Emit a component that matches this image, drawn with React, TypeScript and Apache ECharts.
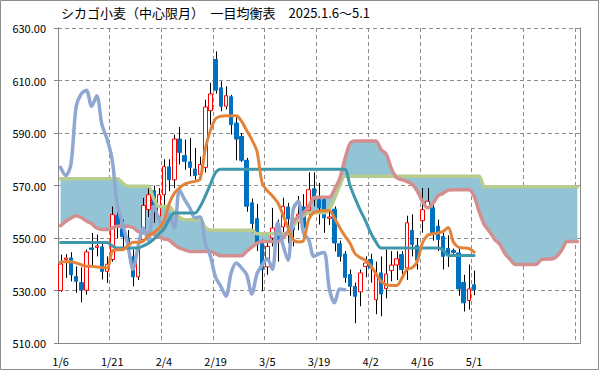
import React, { useEffect, useRef } from 'react';
import * as echarts from 'echarts';

const TITLE = 'シカゴ小麦（中心限月）　一目均衡表　2025.1.6～5.1';
const FONT = '"Noto Sans CJK JP", "Noto Sans", sans-serif';

// trading days (category labels)
const dates = [
  '1/6', '1/7', '1/8', '1/9', '1/10', '1/13', '1/14', '1/15', '1/16', '1/17',
  '1/21', '1/22', '1/23', '1/24', '1/27', '1/28', '1/29', '1/30', '1/31', '2/3',
  '2/4', '2/5', '2/6', '2/7', '2/10', '2/11', '2/12', '2/13', '2/14', '2/18',
  '2/19', '2/20', '2/21', '2/24', '2/25', '2/26', '2/27', '2/28', '3/3', '3/4',
  '3/5', '3/6', '3/7', '3/10', '3/11', '3/12', '3/13', '3/14', '3/17', '3/18',
  '3/19', '3/20', '3/21', '3/24', '3/25', '3/26', '3/27', '3/28', '3/31', '4/1',
  '4/2', '4/3', '4/4', '4/7', '4/8', '4/9', '4/10', '4/11', '4/14', '4/15',
  '4/16', '4/17', '4/21', '4/22', '4/23', '4/24', '4/25', '4/28', '4/29', '4/30',
  '5/1',
];
const futureSlots = 20;

const opens = [
  530.0, 541.8, 542.4, 535.3, 533.0, 530.1, 546.2, 546.4, 546.6, 537.3,
  541.8, 558.5, 553.5, 550.0, 542.8, 535.2, 549.4, 560.8, 568.0, 558.3,
  566.5, 577.1, 572.2, 587.7, 581.4, 579.0, 576.3, 574.2, 576.9, 598.5,
  618.0, 607.2, 600.2, 603.8, 593.8, 588.7, 579.6, 563.4, 557.4, 547.9,
  539.0, 550.0, 553.0, 554.2, 561.8, 557.4, 556.0, 561.8, 560.6, 568.8,
  564.6, 564.6, 557.5, 561.0, 547.8, 543.9, 536.1, 531.6, 529.5, 539.2,
  541.8, 526.5, 536.7, 530.7, 537.6, 539.7, 543.7, 538.6, 552.9, 547.1,
  556.6, 562.0, 561.5, 554.5, 550.6, 546.0, 545.3, 544.3, 533.1, 526.2,
  532.2,
];
const closes = [
  540.1, 542.4, 536.0, 533.5, 530.3, 544.7, 545.6, 547.0, 537.3, 540.0,
  558.9, 554.5, 550.5, 547.0, 535.2, 545.6, 562.4, 566.5, 562.4, 566.5,
  577.2, 572.2, 587.7, 582.6, 579.2, 576.9, 573.8, 578.0, 599.9, 604.9,
  606.3, 600.2, 604.2, 593.2, 587.7, 579.6, 562.1, 555.5, 547.5, 538.0,
  546.8, 553.8, 549.0, 562.1, 557.3, 553.2, 559.0, 553.8, 568.4, 564.6,
  561.5, 557.7, 558.0, 548.1, 543.0, 535.0, 531.6, 527.8, 536.7, 540.5,
  538.6, 536.1, 528.7, 536.3, 539.7, 542.1, 538.0, 555.8, 547.5, 541.5,
  560.8, 564.0, 551.9, 549.4, 543.0, 544.0, 544.5, 530.6, 525.3, 530.6,
  530.3,
];
const highs = [
  543.7, 543.8, 544.6, 539.2, 538.8, 545.6, 551.9, 551.3, 548.7, 543.0,
  562.0, 563.4, 557.0, 553.0, 545.6, 548.0, 565.3, 569.1, 570.0, 569.0,
  580.0, 580.0, 589.4, 592.3, 587.5, 588.1, 584.3, 581.0, 602.7, 609.1,
  621.1, 609.7, 607.8, 604.5, 595.9, 590.0, 580.5, 565.0, 563.0, 549.4,
  548.6, 561.5, 557.0, 565.3, 563.4, 562.7, 566.0, 566.7, 575.0, 575.0,
  571.0, 566.0, 561.0, 562.0, 549.0, 545.0, 538.0, 533.0, 538.0, 543.0,
  544.0, 541.0, 543.0, 545.6, 545.0, 545.0, 545.0, 558.5, 559.0, 550.0,
  569.1, 569.1, 563.0, 557.0, 552.0, 551.0, 546.0, 546.0, 536.0, 539.9,
  537.6,
];
const lows = [
  529.5, 534.8, 533.5, 529.1, 525.5, 528.4, 539.2, 543.0, 534.2, 532.9,
  541.0, 550.0, 545.5, 543.0, 531.6, 534.0, 549.0, 558.0, 555.8, 556.0,
  562.0, 567.8, 569.0, 578.0, 576.0, 573.5, 572.2, 573.0, 575.0, 593.2,
  605.0, 598.3, 599.0, 589.4, 579.6, 579.0, 560.0, 552.0, 545.0, 529.7,
  536.0, 546.8, 541.0, 552.0, 548.0, 546.8, 553.0, 550.0, 558.0, 562.1,
  555.1, 552.0, 555.0, 544.9, 541.0, 533.0, 528.0, 517.5, 524.0, 535.0,
  533.0, 521.0, 520.2, 527.0, 533.5, 534.0, 536.0, 534.0, 543.0, 538.0,
  552.0, 562.0, 549.0, 545.0, 538.0, 539.0, 544.0, 528.0, 522.0, 522.7,
  528.2,
];

// 転換線
const tenkan = [
  540.9, 541.0, 541.0, 540.5, 539.8, 539.2, 539.2, 539.0, 538.8, 538.6,
  545.0, 545.5, 545.5, 547.0, 548.4, 548.4, 548.8, 551.0, 552.0, 553.5,
  556.5, 563.0, 567.0, 569.1, 570.5, 571.2, 571.6, 572.5, 584.0, 591.0,
  595.5, 596.4, 596.6, 596.6, 596.6, 594.5, 591.0, 587.5, 583.0, 571.0,
  568.0, 566.0, 563.5, 559.0, 554.0, 549.5, 548.5, 549.0, 557.0, 559.8,
  560.2, 560.5, 560.5, 557.5, 554.0, 550.8, 548.0, 544.0, 542.5, 541.5,
  539.5, 536.5, 533.5, 532.2, 531.9, 531.9, 534.5, 538.0, 538.6, 541.0,
  548.0, 551.0, 551.6, 551.9, 552.5, 554.0, 548.5, 546.5, 546.2, 546.0,
  544.6,
];
// 基準線
const kijun = [
  548.3, 548.3, 548.3, 548.3, 548.3, 548.3, 548.3, 548.3, 548.3, 548.3,
  547.0, 546.2, 546.2, 546.2, 546.2, 546.2, 547.0, 548.0, 549.5, 551.5,
  553.5, 557.0, 559.5, 559.5, 559.5, 559.5, 559.5, 562.0, 566.0, 570.5,
  575.0, 576.2, 576.2, 576.2, 576.2, 576.2, 576.2, 576.2, 576.2, 576.2,
  576.2, 576.2, 576.2, 576.2, 576.2, 576.2, 576.2, 576.2, 576.2, 576.2,
  576.2, 576.2, 576.2, 576.2, 576.2, 576.2, 570.0, 565.0, 560.5, 556.5,
  552.0, 548.5, 546.2, 546.2, 546.2, 546.2, 546.2, 546.2, 546.2, 546.2,
  546.2, 546.2, 546.2, 546.2, 545.5, 543.3, 543.3, 543.3, 543.3, 543.3,
  543.3,
];
// 遅行スパン
const chikou = [
  576.9, 573.8, 578.0, 599.9, 604.9, 606.3, 600.2, 604.2, 593.2, 587.7,
  579.6, 562.1, 555.5, 547.5, 538.0, 546.8, 553.8, 549.0, 562.1, 557.3,
  553.2, 559.0, 553.8, 568.4, 564.6, 561.5, 557.7, 558.0, 548.1, 543.0,
  535.0, 531.6, 527.8, 536.7, 540.5, 538.6, 536.1, 528.7, 536.3, 539.7,
  542.1, 538.0, 555.8, 547.5, 541.5, 560.8, 564.0, 551.9, 549.4, 543.0,
  544.0, 544.5, 530.6, 525.3, 530.6, 530.3,
];
// 先行スパン1
const senkouA = [
  572.6, 572.6, 572.6, 572.6, 572.6, 572.6, 572.6, 572.6, 572.6, 572.6,
  572.6, 572.6, 571.0, 569.7, 569.7, 569.7, 569.7, 569.7, 565.0, 562.0,
  562.0, 562.0, 559.5, 557.8, 557.0, 557.0, 557.0, 557.0, 554.0, 553.0,
  553.0, 553.0, 553.0, 553.0, 553.0, 553.0, 553.0, 553.0, 551.6, 551.6,
  551.6, 551.6, 551.6, 551.6, 551.6, 554.5, 557.0, 558.5, 559.6, 559.6,
  559.6, 559.6, 561.0, 565.0, 570.0, 573.5, 573.5, 573.5, 573.5, 573.5,
  573.5, 573.5, 573.5, 573.5, 573.5, 573.5, 573.5, 573.5, 573.5, 573.5,
  573.5, 573.5, 573.5, 573.5, 573.5, 573.5, 573.5, 573.5, 573.5, 573.5,
  573.5, 573.5, 569.5, 569.5, 569.5, 569.5, 569.5, 569.5, 569.5, 569.5,
  569.5, 569.5, 569.5, 569.5, 569.5, 569.5, 569.5, 569.5, 569.5, 569.5,
  569.5,
];
// 先行スパン2
const senkouB = [
  554.7, 556.4, 557.5, 558.5, 557.8, 556.5, 555.5, 553.8, 553.2, 553.2,
  553.8, 554.5, 554.5, 554.5, 554.0, 552.5, 552.0, 551.9, 551.3, 550.5,
  549.7, 549.2, 547.5, 546.2, 545.5, 544.9, 544.9, 544.9, 544.9, 544.9,
  544.0, 543.2, 543.2, 543.2, 543.2, 543.2, 544.9, 546.5, 548.0, 548.7,
  548.7, 548.7, 548.7, 550.0, 552.6, 556.0, 558.3, 559.5, 562.0, 565.3,
  565.5, 565.5, 565.5, 568.5, 572.5, 580.0, 586.0, 587.0, 587.0, 587.0,
  587.0, 587.0, 583.7, 582.0, 576.5, 573.0, 572.2, 571.5, 570.5, 568.0,
  564.0, 561.5, 563.0, 566.0, 567.0, 568.2, 568.4, 568.4, 568.4, 568.4,
  566.0, 560.0, 555.0, 552.5, 549.5, 547.5, 544.0, 541.8, 539.9, 539.9,
  539.9, 539.9, 539.9, 541.8, 542.0, 542.0, 543.0, 545.5, 548.7, 548.7,
  548.7,
];

const SMOOTH = 0.3;

export default function App() {
  const ref = useRef<HTMLDivElement>(null);
  useEffect(() => {
    document.body.style.margin = '0';
    const chart = echarts.init(ref.current as HTMLDivElement, null, { renderer: 'svg' });
    const categories = [...dates, ...Array(futureSlots).fill('')];
    const kumoBase = senkouA.map((a, i) => Math.min(a, senkouB[i]));
    const kumoDiff = senkouA.map((a, i) => Math.abs(a - senkouB[i]));
    const bodies = opens.map((o, i) => [o, closes[i], Math.min(o, closes[i]), Math.max(o, closes[i])]);
    const wicks = highs.map((h, i) => [i, lows[i], h]);
    const line = (name: string, data: number[], color: string, width: number) => ({
      type: 'line', name, data, smooth: SMOOTH, symbol: 'none', silent: true, z: 4,
      lineStyle: { color, width, cap: 'round', join: 'round' },
    });
    const gridColor = '#8c8c8c';
    const axisColor = '#868686';
    chart.setOption({
      animation: false,
      backgroundColor: '#ffffff',
      title: {
        text: TITLE, left: 61, top: 6, padding: 0,
        textStyle: { fontFamily: FONT, fontSize: 13, fontWeight: 'normal', color: '#000000' },
      },
      grid: { left: 58, right: 19, top: 28, bottom: 27 },
      xAxis: {
        type: 'category', data: categories, boundaryGap: true,
        axisLine: { lineStyle: { color: axisColor } },
        axisTick: { interval: 9, length: 5, lineStyle: { color: axisColor } },
        axisLabel: { interval: 9, margin: 12, fontSize: 11, color: '#000000', fontFamily: FONT },
        splitLine: { show: true, interval: 9, lineStyle: { color: gridColor, type: [4, 3] } },
      },
      yAxis: [
        {
          type: 'value', min: 510, max: 630, interval: 20,
          axisLine: { show: true, lineStyle: { color: axisColor } },
          axisTick: { show: true, length: 4, lineStyle: { color: axisColor } },
          axisLabel: {
            margin: 12, fontSize: 11, color: '#000000', fontFamily: FONT,
            formatter: (v: number) => v.toFixed(2),
          },
          splitLine: { lineStyle: { color: gridColor, type: [4, 3] } },
        },
        {
          type: 'value', min: 510, max: 630, interval: 20, position: 'right',
          axisLine: { show: true, lineStyle: { color: axisColor } },
          axisTick: { show: false }, axisLabel: { show: false }, splitLine: { show: false },
        },
      ],
      graphic: [
        {
          type: 'rect', silent: true, z: 100,
          shape: { x: 0.5, y: 0.5, width: 598, height: 369 },
          style: { fill: 'none', stroke: '#8c8c8c', lineWidth: 1 },
        },
      ],
      series: [
        {
          type: 'line', data: kumoBase, stack: 'kumo', smooth: SMOOTH, symbol: 'none', silent: true, z: 1,
          lineStyle: { width: 0, opacity: 0 },
        },
        {
          type: 'line', data: kumoDiff, stack: 'kumo', smooth: SMOOTH, symbol: 'none', silent: true, z: 1,
          lineStyle: { width: 0, opacity: 0 },
          areaStyle: { color: '#93C4D5', opacity: 1 },
        },
        {
          type: 'custom', data: wicks, z: 2, silent: true,
          encode: { x: 0, y: [1, 2] },
          renderItem: (params: any, api: any) => {
            const lo = api.coord([api.value(0), api.value(1)]);
            const hi = api.coord([api.value(0), api.value(2)]);
            const x = Math.round(lo[0]) + 0.5;
            return {
              type: 'line',
              shape: { x1: x, y1: lo[1], x2: x, y2: hi[1] },
              style: { stroke: '#000000', lineWidth: 1 },
            };
          },
        },
        {
          type: 'candlestick', data: bodies, barWidth: 4, z: 3, silent: true,
          itemStyle: {
            color: '#ffffff', color0: '#0070C0',
            borderColor: '#FF0000', borderColor0: '#0070C0', borderWidth: 1,
          },
        },
        line('先行スパン1', senkouA, '#B7CC8E', 3.5),
        line('先行スパン2', senkouB, '#D38F8F', 3.5),
        line('遅行スパン', chikou, '#8FA7D1', 3.5),
        line('基準線', kijun, '#3E97AA', 3),
        line('転換線', tenkan, '#E3833A', 3),
      ],
    });
    return () => chart.dispose();
  }, []);
  return <div ref={ref} style={{ width: 599, height: 370 }} />;
}
